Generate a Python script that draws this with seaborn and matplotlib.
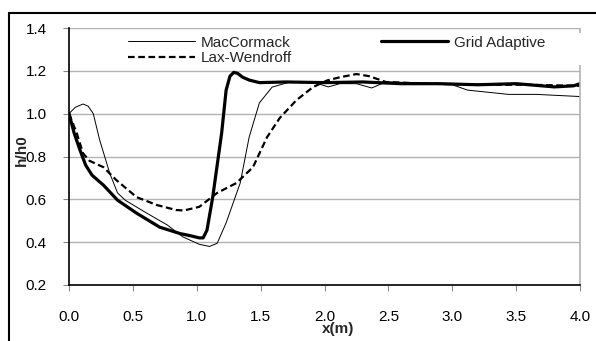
import matplotlib
matplotlib.use("Agg")
import matplotlib.pyplot as plt
from matplotlib.lines import Line2D
import seaborn as sns
import pandas as pd

# ---- data ----
x_mac = [0, 0.05, 0.11, 0.15, 0.19, 0.24, 0.32, 0.38, 0.44, 0.61, 0.77, 0.89, 1.02, 1.10, 1.16,
         1.23, 1.34, 1.41, 1.49, 1.59, 1.73, 1.86, 1.95, 2.03, 2.12, 2.25, 2.37, 2.48, 2.7, 3.0,
         3.12, 3.44, 3.66, 4.0]
y_mac = [1.0, 1.03, 1.045, 1.035, 1.0, 0.877, 0.72, 0.63, 0.596, 0.535, 0.48, 0.425, 0.39, 0.38,
         0.395, 0.49, 0.676, 0.89, 1.05, 1.124, 1.148, 1.148, 1.14, 1.125, 1.14, 1.14, 1.12, 1.148,
         1.145, 1.135, 1.11, 1.09, 1.09, 1.08]

x_ga = [0, 0.04, 0.086, 0.13, 0.18, 0.27, 0.38, 0.53, 0.71, 0.87, 0.95, 1.02, 1.05, 1.08, 1.125,
        1.16, 1.195, 1.23, 1.26, 1.29, 1.32, 1.36, 1.41, 1.49, 1.7, 2.0, 2.3, 2.6, 2.9, 3.2, 3.5,
        3.8, 3.95, 4.0]
y_ga = [1.0, 0.91, 0.83, 0.76, 0.713, 0.666, 0.596, 0.535, 0.47, 0.44, 0.43, 0.42, 0.42, 0.456,
        0.61, 0.76, 0.91, 1.11, 1.175, 1.193, 1.188, 1.17, 1.157, 1.145, 1.148, 1.145, 1.148, 1.14,
        1.14, 1.135, 1.14, 1.125, 1.13, 1.14]

x_lw = [0, 0.06, 0.11, 0.16, 0.27, 0.37, 0.53, 0.69, 0.84, 0.9, 1.02, 1.16, 1.31, 1.44, 1.55,
        1.65, 1.78, 1.91, 2.02, 2.12, 2.25, 2.35, 2.48, 2.8, 3.2, 3.6, 4.0]
y_lw = [1.0, 0.91, 0.815, 0.78, 0.75, 0.69, 0.61, 0.573, 0.55, 0.548, 0.565, 0.63, 0.676, 0.75,
        0.89, 0.98, 1.063, 1.124, 1.155, 1.17, 1.185, 1.175, 1.148, 1.14, 1.135, 1.135, 1.13]

x_ticks = [0.0, 0.5, 1.0, 1.5, 2.0, 2.5, 3.0, 3.5, 4.0]
y_ticks = [0.2, 0.4, 0.6, 0.8, 1.0, 1.2, 1.4]

sns.set_style("white")
plt.rcParams['font.family'] = ['Liberation Sans', 'DejaVu Sans']

FS = 11
fig = plt.figure(figsize=(5.96, 3.41), dpi=100)
ax = fig.add_axes([69/596, 1 - 285/341, (580 - 69)/596, (285 - 28)/341])

df_mac = pd.DataFrame({"x": x_mac, "y": y_mac})
df_ga = pd.DataFrame({"x": x_ga, "y": y_ga})
df_lw = pd.DataFrame({"x": x_lw, "y": y_lw})

sns.lineplot(data=df_mac, x="x", y="y", ax=ax, color="black", lw=0.7,
             label="MacCormack", sort=False)
sns.lineplot(data=df_lw, x="x", y="y", ax=ax, color="black", lw=1.6,
             label="Lax-Wendroff", sort=False)
ax.lines[-1].set_dashes((3, 1.6))
sns.lineplot(data=df_ga, x="x", y="y", ax=ax, color="black", lw=2.3,
             label="Grid Adaptive", sort=False)
for ln in ax.lines:
    ln.set_solid_joinstyle("round")
    ln.set_dash_joinstyle("round")

ax.set_xlim(0, 4.0)
ax.set_ylim(0.2, 1.4)
ax.set_xticks(x_ticks)
ax.set_yticks(y_ticks)
ax.set_xticklabels([f"{v:.1f}" for v in x_ticks])
ax.set_yticklabels([f"{v:.1f}" for v in y_ticks])
ax.grid(axis="y", color="#b3b3b3", lw=1)
ax.set_axisbelow(True)

for s in ["left", "bottom"]:
    ax.spines[s].set_color("black")
    ax.spines[s].set_linewidth(1.2)
ax.spines["right"].set_visible(False)
ax.spines["top"].set_visible(False)
# right frame line (gray), interrupted by the legend box as in the reference
ax.vlines([4.0, 4.0], [0.2, 1.377], [1.227, 1.4], colors="#b3b3b3", lw=1.2,
          clip_on=False, zorder=2.5)

ax.tick_params(axis="both", which="both", direction="out", length=4, width=0.8,
               color="#888888", labelsize=FS, labelcolor="black",
               bottom=True, left=True)
ax.tick_params(axis="x", pad=13.8)
ax.tick_params(axis="y", pad=12)

ax.set_xlabel("x(m)", fontsize=FS, fontweight="bold")
ax.xaxis.set_label_coords((338 - 69)/(580 - 69), -(322 - 285)/(285 - 28))
ax.set_ylabel("h/h0", fontsize=FS, fontweight="bold")
ax.yaxis.set_label_coords(-(69 - 29)/(580 - 69), (285 - 150)/(285 - 28))

leg = ax.legend(loc="upper left", bbox_to_anchor=(123/596, 1 - 31/341),
                bbox_transform=fig.transFigure, ncol=2, frameon=False,
                fontsize=FS, handlelength=4.4, handletextpad=0.4,
                columnspacing=5.8, labelspacing=0.12, borderpad=0.3,
                borderaxespad=0)
leg.set_zorder(10)

# outer frame of the reference chart
fig.add_artist(Line2D([9/596, 1.0], [1 - 13/341, 1 - 13/341],
                      transform=fig.transFigure, color="black", lw=1.5))
fig.add_artist(Line2D([9/596, 9/596], [0, 1 - 13/341],
                      transform=fig.transFigure, color="black", lw=1.5))
# cut-off title fragment at the very top
fig.text(316/596, 1 + 4/341, "y", fontsize=15, fontweight="bold",
         ha="center", va="baseline")

fig.savefig("out.png", dpi=100)
